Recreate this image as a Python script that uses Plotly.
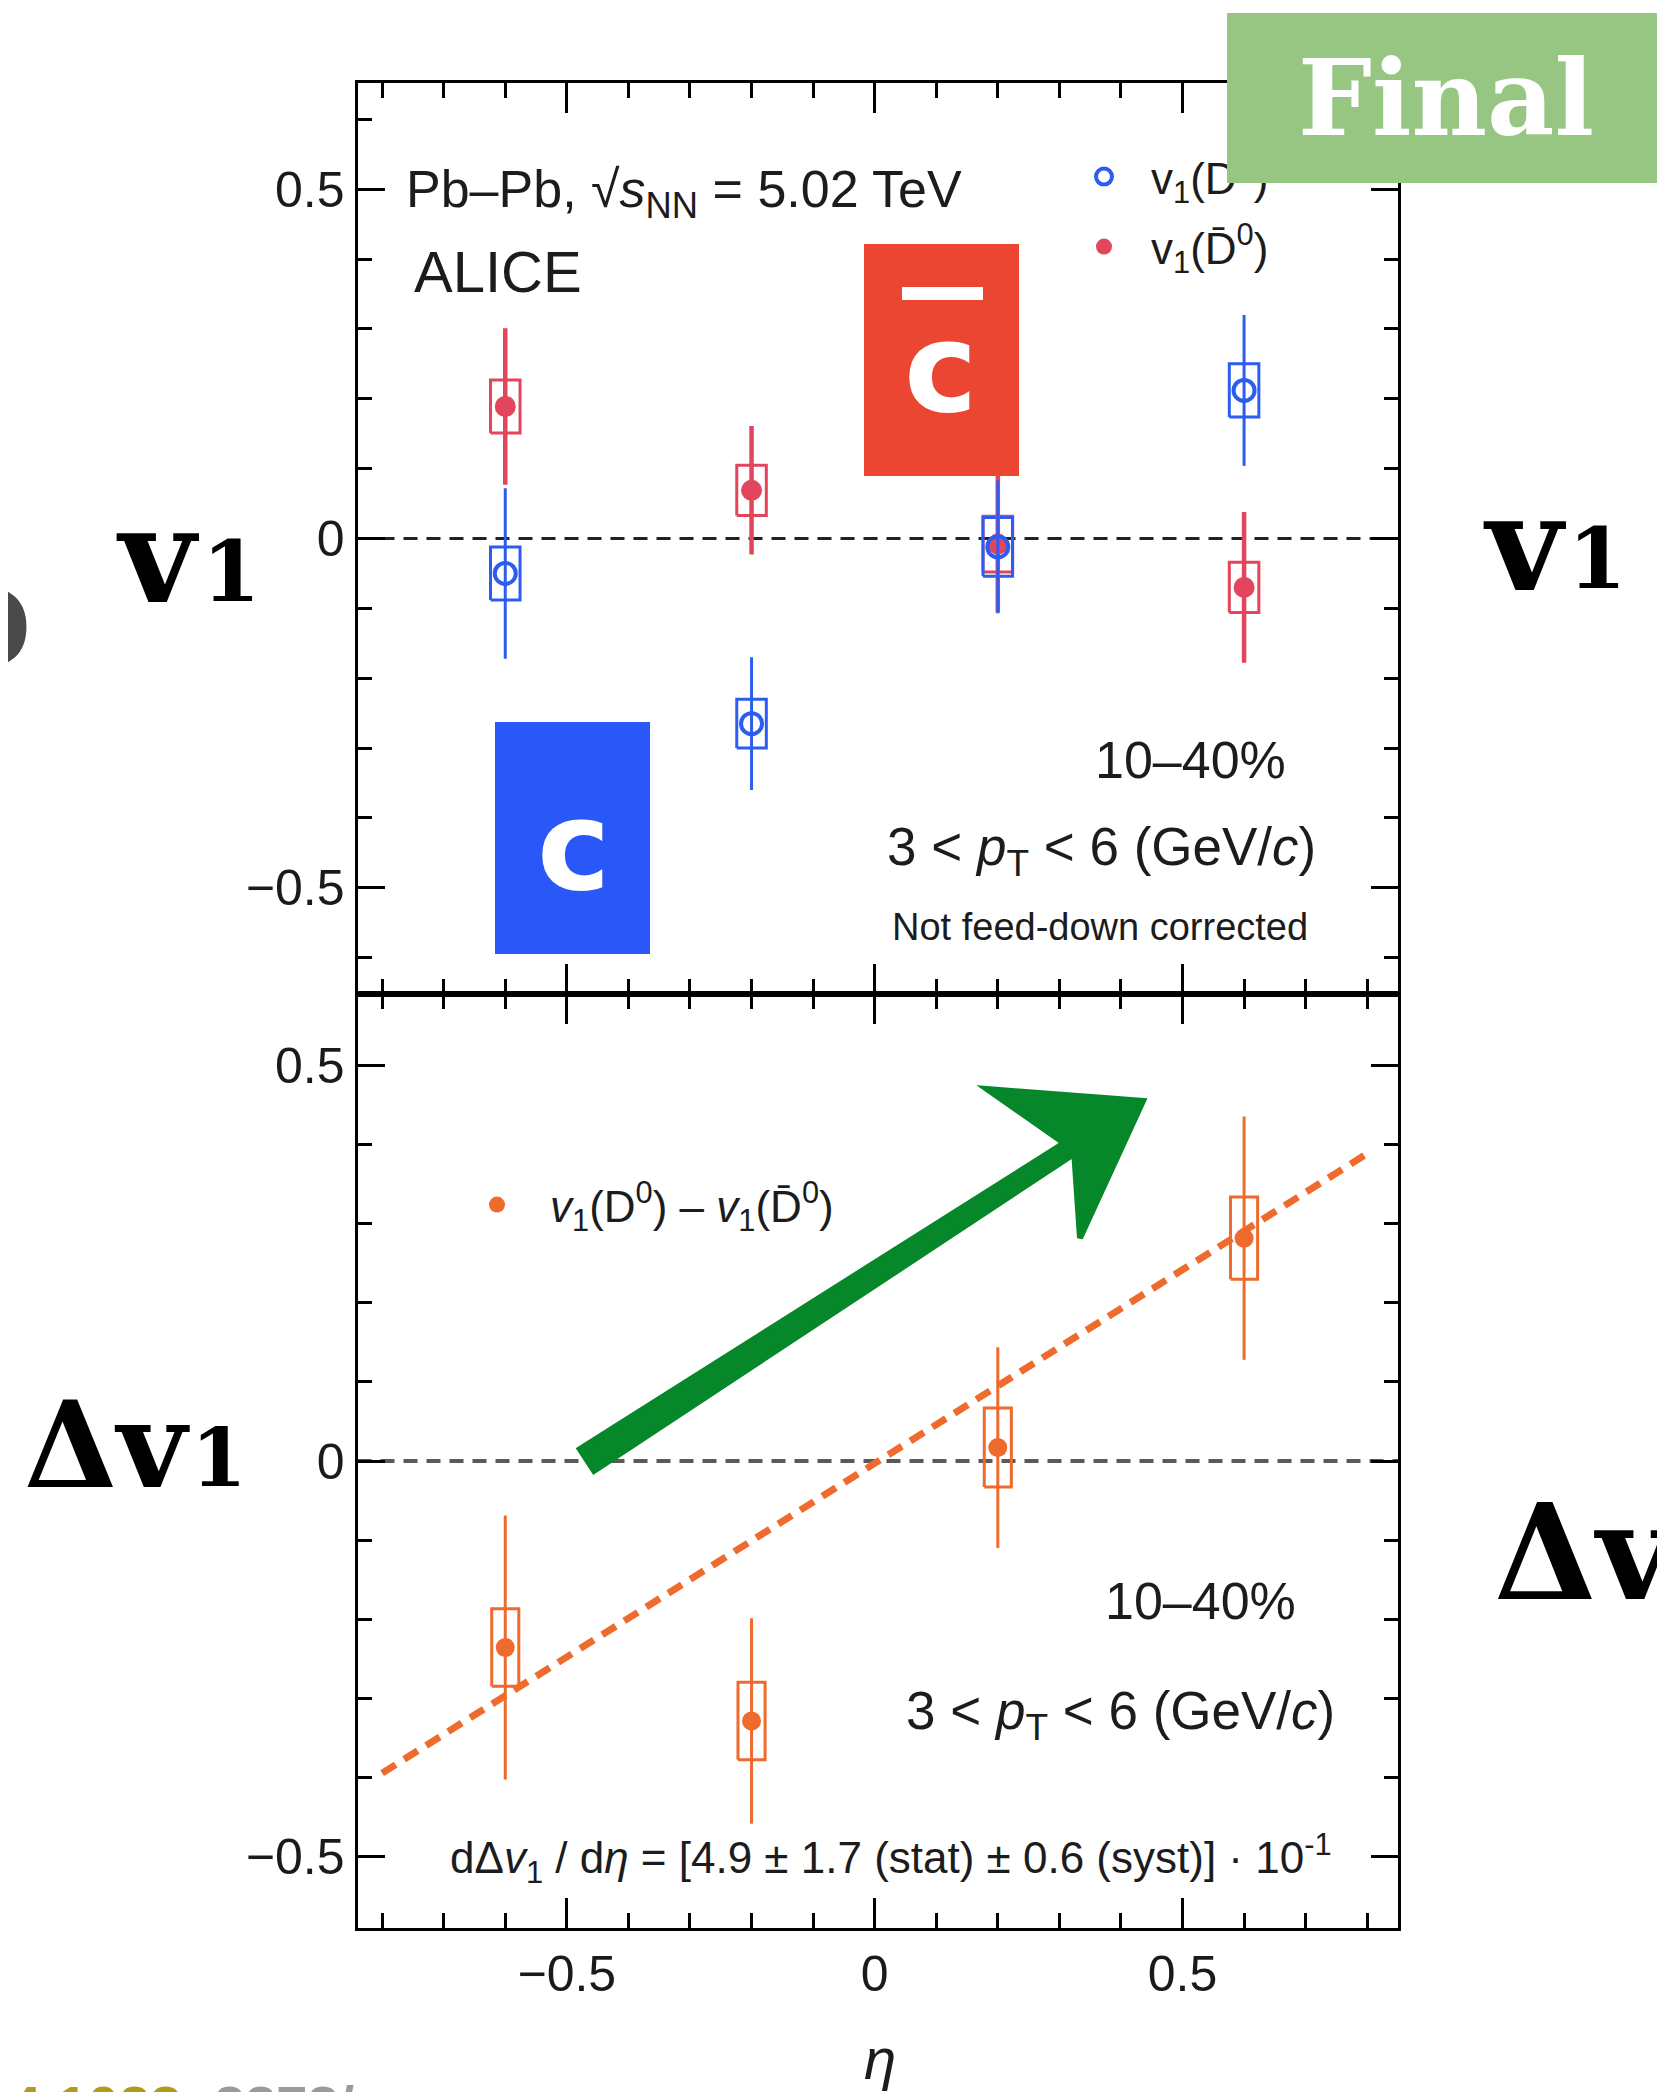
import plotly.graph_objects as go

# page is rendered with an 8px body margin; figure coordinates are page - 8
OFF = 8
W, H = 1665 - OFF, 2092 - OFF

# ---------------- data ----------------
eta = [-0.6, -0.2, 0.2, 0.6]

v1_D0 = [-0.05, -0.265, -0.012, 0.212]
v1_D0_stat = [0.122, 0.095, 0.095, 0.108]
v1_D0_syst = [0.038, 0.035, 0.042, 0.038]

v1_D0bar = [0.189, 0.069, -0.008, -0.07]
v1_D0bar_stat = [0.112, 0.092, 0.098, 0.108]
v1_D0bar_syst = [0.038, 0.036, 0.04, 0.036]

dv1 = [-0.236, -0.329, 0.017, 0.282]
dv1_stat = [0.167, 0.13, 0.127, 0.154]
dv1_syst = [0.049, 0.049, 0.05, 0.052]

fit_slope = 0.49
fit_intercept = -0.003
fit_eta = [-0.8, 0.8]

x_ticks = [-0.5, 0, 0.5]
y_ticks = [-0.5, 0, 0.5]

BLUE = "#2D5CF0"
RED = "#E2455C"
ORANGE = "#EE6B2D"

BW_TOP = 0.024
BW_BOT = 0.022


def px(x):
    return (x - OFF) / W


def py(y):
    return 1 - (y - OFF) / H


def box_xy(xs, ys, es, hw):
    bx, by = [], []
    for x, y, e in zip(xs, ys, es):
        bx += [x - hw, x + hw, x + hw, x - hw, x - hw, None]
        by += [y - e, y - e, y + e, y + e, y - e, None]
    return bx, by


fig = go.Figure()

# ---- top panel ----
bx, by = box_xy(eta, v1_D0bar, v1_D0bar_syst, BW_TOP)
fig.add_trace(go.Scatter(x=bx, y=by, mode="lines", line=dict(color=RED, width=3),
                         showlegend=False, xaxis="x", yaxis="y", hoverinfo="skip"))
bx, by = box_xy(eta, v1_D0, v1_D0_syst, BW_TOP)
fig.add_trace(go.Scatter(x=bx, y=by, mode="lines", line=dict(color=BLUE, width=3),
                         showlegend=False, xaxis="x", yaxis="y", hoverinfo="skip"))

fig.add_trace(go.Scatter(
    x=eta, y=v1_D0bar, mode="markers",
    marker=dict(symbol="circle", size=21, color=RED),
    error_y=dict(type="data", array=v1_D0bar_stat, color=RED, thickness=4.5, width=0),
    name="v<sub>1</sub>(D\u0304<sup>0</sup>)", legend="legend2",
    xaxis="x", yaxis="y"))
fig.add_trace(go.Scatter(
    x=eta, y=v1_D0, mode="markers",
    marker=dict(symbol="circle-open", size=21, color=BLUE, line=dict(width=4, color=BLUE)),
    error_y=dict(type="data", array=v1_D0_stat, color=BLUE, thickness=3, width=0),
    name="v<sub>1</sub>(D<sup>0</sup>)", legend="legend",
    xaxis="x", yaxis="y"))

# ---- bottom panel ----
fit_y = [fit_slope * e + fit_intercept for e in fit_eta]
fig.add_trace(go.Scatter(x=fit_eta, y=fit_y, mode="lines",
                         line=dict(color=ORANGE, width=7, dash="16px,10px"),
                         showlegend=False, xaxis="x2", yaxis="y2", hoverinfo="skip"))
bx, by = box_xy(eta, dv1, dv1_syst, BW_BOT)
fig.add_trace(go.Scatter(x=bx, y=by, mode="lines", line=dict(color=ORANGE, width=3),
                         showlegend=False, xaxis="x2", yaxis="y2", hoverinfo="skip"))
fig.add_trace(go.Scatter(
    x=eta, y=dv1, mode="markers",
    marker=dict(symbol="circle", size=19, color=ORANGE),
    error_y=dict(type="data", array=dv1_stat, color=ORANGE, thickness=3, width=0),
    name="<i>v</i><sub>1</sub>(D<sup>0</sup>) \u2013 <i>v</i><sub>1</sub>(D\u0304<sup>0</sup>)",
    legend="legend3", xaxis="x2", yaxis="y2"))

# ---------------- axes ----------------
XD = [px(357.5), px(1398)]
TOP_D = [py(994), py(83)]
BOT_D = [py(1928), py(994)]

tickfont = dict(family="Liberation Sans", size=50, color="#1a1a1a")

common_x = dict(range=[-0.84, 0.85], domain=XD, tickvals=x_ticks, ticks="inside",
                ticklen=30, tickwidth=2.5, tickcolor="black",
                minor=dict(dtick=0.1, tick0=0, ticks="inside", ticklen=15,
                           tickwidth=2.5, tickcolor="black"),
                showline=True, linecolor="black", linewidth=3, mirror="allticks",
                showgrid=False, zeroline=False, tickfont=tickfont)
common_y = dict(tickvals=y_ticks, ticks="inside", ticklen=27, tickwidth=2.5,
                tickcolor="black",
                minor=dict(dtick=0.1, tick0=0, ticks="inside", ticklen=14,
                           tickwidth=2.5, tickcolor="black"),
                showline=True, linecolor="black", linewidth=3, mirror="allticks",
                showgrid=False, zeroline=False, tickfont=tickfont)

fig.update_layout(
    xaxis=dict(common_x, anchor="y", showticklabels=False),
    yaxis=dict(common_y, anchor="x", domain=TOP_D, range=[-0.652, 0.652]),
    xaxis2=dict(common_x, anchor="y2", showticklabels=True),
    yaxis2=dict(common_y, anchor="x2", domain=BOT_D, range=[-0.591, 0.591]),
)

# ---------------- zero lines ----------------
shapes = [
    dict(type="line", xref="x domain", yref="y", x0=0, x1=1, y0=0, y1=0,
         line=dict(color="#222222", width=3, dash="14px,9px"), layer="below"),
    dict(type="line", xref="x2 domain", yref="y2", x0=0, x1=1, y0=0, y1=0,
         line=dict(color="#5a5a5a", width=4, dash="14px,9px"), layer="below"),
]

# decorative boxes
shapes.append(dict(type="rect", xref="paper", yref="paper",
                   x0=px(864), x1=px(1019), y0=py(476), y1=py(244),
                   fillcolor="#EB4631", line=dict(width=0), layer="above"))
shapes.append(dict(type="rect", xref="paper", yref="paper",
                   x0=px(902), x1=px(983), y0=py(300), y1=py(287),
                   fillcolor="white", line=dict(width=0), layer="above"))
shapes.append(dict(type="rect", xref="paper", yref="paper",
                   x0=px(495), x1=px(650), y0=py(954), y1=py(722),
                   fillcolor="#2957F8", line=dict(width=0), layer="above"))

# hand-drawn green arrow
GREEN = "#05872A"
shaft = [(579.9, 1449.1), (1086.2, 1129.1), (1093.8, 1140.9), (594.1, 1470.9)]
head = [(987, 1089), (1143, 1101), (1080, 1238), (1074, 1150)]


def path_of(pts):
    s = "M {} {}".format(px(pts[0][0]), py(pts[0][1]))
    for x, y in pts[1:]:
        s += " L {} {}".format(px(x), py(y))
    return s + " Z"


shapes.append(dict(type="path", xref="paper", yref="paper", path=path_of(shaft),
                   fillcolor=GREEN, line=dict(color=GREEN, width=6), layer="above"))
shapes.append(dict(type="path", xref="paper", yref="paper", path=path_of(head),
                   fillcolor=GREEN, line=dict(color=GREEN, width=6), layer="above"))

fig.update_layout(shapes=shapes)

# ---------------- annotations ----------------
SANS = "Liberation Sans"
TXT = "#1c1c1c"
SLAB = "DejaVu Serif"


def ann(text, x, y, size, xanchor="left", yanchor="middle", family=SANS, color=TXT, **kw):
    d = dict(text=text, x=px(x), y=py(y), xref="paper", yref="paper",
             xanchor=xanchor, yanchor=yanchor, showarrow=False,
             font=dict(family=family, size=size, color=color))
    d.update(kw)
    return d


annotations = [
    ann("Pb\u2013Pb, \u221A<i>s</i><sub>NN</sub> = 5.02 TeV", 404, 193, 52),
    ann("ALICE", 412, 272, 58),
    ann("10\u201340%", 1288, 760, 52, xanchor="right"),
    ann("3 < <i>p</i><sub>T</sub> < 6 (GeV/<i>c</i>)", 1318, 850, 53, xanchor="right"),
    ann("Not feed-down corrected", 1310, 927, 38, xanchor="right"),
    ann("10\u201340%", 1298, 1601, 52, xanchor="right"),
    ann("3 < <i>p</i><sub>T</sub> < 6 (GeV/<i>c</i>)", 1337, 1714, 53, xanchor="right"),
    ann("d\u0394<i>v</i><sub>1</sub> / d<i>\u03B7</i> = [4.9 \u00B1 1.7 (stat) \u00B1 0.6 (syst)] \u00B7 10<sup>-1</sup>",
        1334, 1858, 44, xanchor="right"),
    ann("<i>\u03B7</i>", 880, 2058, 58, xanchor="center"),
    # coloured labels
    ann("<b>c</b>", 941, 368, 124, xanchor="center", family="DejaVu Sans", color="white"),
    ann("<b>c</b>", 574, 846, 124, xanchor="center", family="DejaVu Sans", color="white"),
    # side labels
    ann("<b>v</b>", 114, 556, 132, family=SLAB, color="black"),
    ann("<b>1</b>", 200, 572, 84, family=SLAB, color="black"),
    ann("<b>\u0394v</b>", 22, 1444, 120, family=SLAB, color="black"),
    ann("<b>1</b>", 189, 1458, 80, family=SLAB, color="black"),
    ann("<b>v</b>", 1481, 543, 132, family=SLAB, color="black"),
    ann("<b>1</b>", 1566, 558, 84, family=SLAB, color="black"),
    ann("<b>\u0394v</b>", 1492, 1552, 132, family=SLAB, color="black"),
    ann("<b>D</b>", 33, 628, 112, xanchor="right", family=SLAB, color="#4a4a4a"),
    # cut-off footer text
    ann("<b>4.1023</b>", 8, 2072, 56, yanchor="top", family=SANS, color="#B39A1E"),
    ann("<b>2373/</b>", 212, 2072, 56, yanchor="top", family=SANS, color="#9a9a9a"),
    # Final badge (annotation so it sits above the legend)
    dict(text="<b>Final</b>", x=px(1227), y=py(13), xref="paper", yref="paper",
         xanchor="left", yanchor="top", showarrow=False, width=438, height=170,
         align="center", valign="middle", bgcolor="#97C683", borderpad=0, borderwidth=0,
         font=dict(family=SLAB, size=104, color="white")),
]
fig.update_layout(annotations=annotations)

# ---------------- legends ----------------
def leg(x, y, iw):
    return dict(x=px(x), y=py(y), xanchor="left", yanchor="middle",
                bgcolor="rgba(0,0,0,0)", borderwidth=0, itemwidth=iw,
                font=dict(family=SANS, size=44, color=TXT))


fig.update_layout(
    legend=leg(1057, 177, 84),
    legend2=leg(1057, 247, 84),
    legend3=leg(444, 1205, 96),
)

fig.update_layout(width=W, height=H, margin=dict(l=0, r=0, t=0, b=0),
                  paper_bgcolor="white", plot_bgcolor="white",
                  font=dict(family=SANS, color=TXT))

fig.write_html("out.html")
